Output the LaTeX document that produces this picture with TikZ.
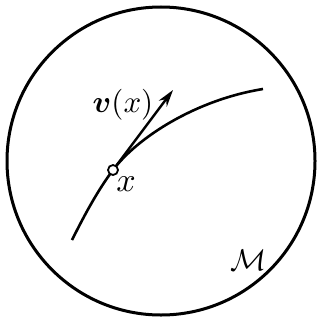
\documentclass[tikz,border=0pt]{standalone}
\usepackage{amsmath,amssymb,bm}
\usetikzlibrary{arrows.meta}
\tikzset{
  manifold/.style={line width=3pt},
  curveline/.style={line width=2.6pt},
  vecarrow/.style={line width=2.4pt,-{Stealth[length=17pt,width=10pt]}},
  pointmark/.style={circle,draw,line width=1.8pt,fill=white,inner sep=0pt,minimum size=10pt},
  lbl/.style={inner sep=0pt}
}
\begin{document}
\begin{tikzpicture}[x=1pt,y=-1pt]
\useasboundingbox (0,0) rectangle (323,321);
\draw[manifold] (161,161) circle (154);
\coordinate (a) at (72,240);
\coordinate (b) at (263,89);
\coordinate (tip) at (173,90);
\draw[curveline] (a) .. controls (85,214) and (98,190) .. (113,170) .. controls (137,138) and (195,100) .. (b);
\node[pointmark] (x) at (113,170) {};
\draw[vecarrow] (x) -- (tip);
\node[lbl,scale=3.1] (vl) at (123,105) {$\bm{v}(x)$};
\node[lbl,scale=3.4] (xl) at (126,184) {$x$};
\node[lbl,scale=3] (ml) at (249,260) {$\mathcal{M}$};
\end{tikzpicture}
\end{document}
